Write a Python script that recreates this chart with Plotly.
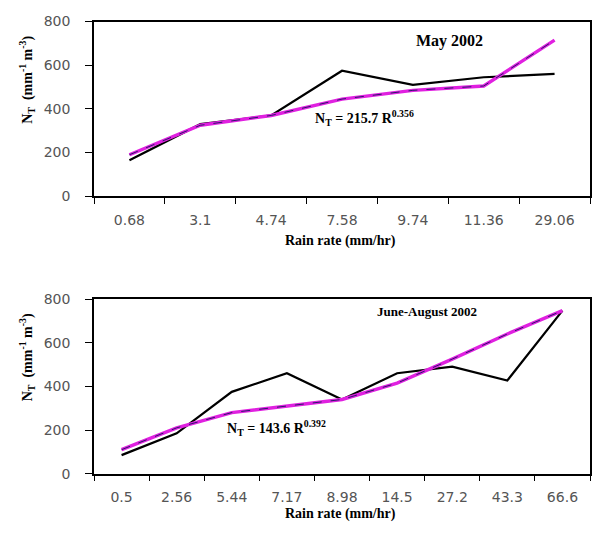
import plotly.graph_objects as go

# Top panel: May 2002
may_rain = ["0.68", "3.1", "4.74", "7.58", "9.74", "11.36", "29.06"]
may_obs = [165, 330, 370, 575, 510, 545, 560]
may_fit = [190, 325, 370, 445, 485, 505, 715]

# Bottom panel: June-August 2002
jja_rain = ["0.5", "2.56", "5.44", "7.17", "8.98", "14.5", "27.2", "43.3", "66.6"]
jja_obs = [85, 185, 375, 460, 340, 460, 490, 427, 747]
jja_fit = [110, 210, 280, 310, 340, 415, 525, 640, 747]

y_ticks = [0, 200, 400, 600, 800]

W, H = 592, 537
def px(x):
    return x / W
def py(y):
    return 1 - y / H

fig = go.Figure()

def add_panel(xa, ya, cats, obs, fit):
    fig.add_trace(go.Scatter(x=cats, y=obs, mode="lines", line=dict(color="black", width=2.2),
                             xaxis=xa, yaxis=ya, showlegend=False))
    fig.add_trace(go.Scatter(x=cats, y=fit, mode="lines", line=dict(color="#e020e0", width=3.4),
                             xaxis=xa, yaxis=ya, showlegend=False))
    fig.add_trace(go.Scatter(x=cats, y=fit, mode="lines", line=dict(color="#2a1a6a", width=1, dash="dash"),
                             xaxis=xa, yaxis=ya, showlegend=False))

add_panel("x", "y", may_rain, may_obs, may_fit)
add_panel("x2", "y2", jja_rain, jja_obs, jja_fit)

tickfont = dict(family="DejaVu Sans, Arial", size=14, color="#555555")
xcommon = dict(type="category", showline=True, linecolor="black", linewidth=1.6, mirror=True,
               ticks="outside", tickson="boundaries", ticklen=6, tickcolor="black",
               showgrid=False, zeroline=False, tickfont=tickfont, fixedrange=True,
               ticklabelstandoff=10)
ycommon = dict(range=[0, 800], tickvals=y_ticks, showline=True, linecolor="black", linewidth=1.6,
               mirror=True, ticks="outside", ticklen=7, tickcolor="black", showgrid=False,
               zeroline=False, tickfont=tickfont, fixedrange=True, ticklabelstandoff=12)

fig.update_layout(
    width=W, height=H,
    margin=dict(l=0, r=0, t=0, b=0),
    paper_bgcolor="white", plot_bgcolor="white",
    xaxis=dict(domain=[px(94), px(590)], anchor="y", range=[-0.5, len(may_rain) - 0.5], **xcommon),
    yaxis=dict(domain=[py(194), py(14)], anchor="x", **ycommon),
    xaxis2=dict(domain=[px(94), px(590)], anchor="y2", range=[-0.5, len(jja_rain) - 0.5], **xcommon),
    yaxis2=dict(domain=[py(480), py(300)], anchor="x2", **ycommon),
)

serif = "Liberation Serif, Times New Roman"
ytitle = "<b>N<sub>T</sub>  (mm<sup>-1</sup> m<sup>-3</sup>)</b>"
anns = [
    dict(x=px(27), y=py(74), text=ytitle, textangle=-90, font=dict(family=serif, size=14, color="black")),
    dict(x=px(27), y=py(360), text=ytitle, textangle=-90, font=dict(family=serif, size=14, color="black")),
    dict(x=px(340), y=py(240), text="<b>Rain rate (mm/hr)</b>", font=dict(family=serif, size=14, color="black")),
    dict(x=px(340), y=py(522), text="<b>Rain rate (mm/hr)</b>", font=dict(family=serif, size=14, color="black")),
    dict(x=px(449), y=py(34), text="<b>May 2002</b>", font=dict(family=serif, size=16, color="black")),
    dict(x=px(427), y=py(313), text="<b>June-August 2002</b>", font=dict(family=serif, size=13, color="black")),
    dict(x=px(364), y=py(113), text="<b>N<sub>T</sub> = 215.7 R<sup>0.356</sup></b>", font=dict(family=serif, size=14, color="black")),
    dict(x=px(276), y=py(433), text="<b>N<sub>T</sub> = 143.6 R<sup>0.392</sup></b>", font=dict(family=serif, size=14, color="black")),
]
for a in anns:
    a.update(xref="paper", yref="paper", showarrow=False, xanchor="center", yanchor="middle")
fig.update_layout(annotations=anns)

fig.write_html("out.html", config={"displayModeBar": False},
               post_script="document.body.style.margin='0';document.body.style.padding='0';")
